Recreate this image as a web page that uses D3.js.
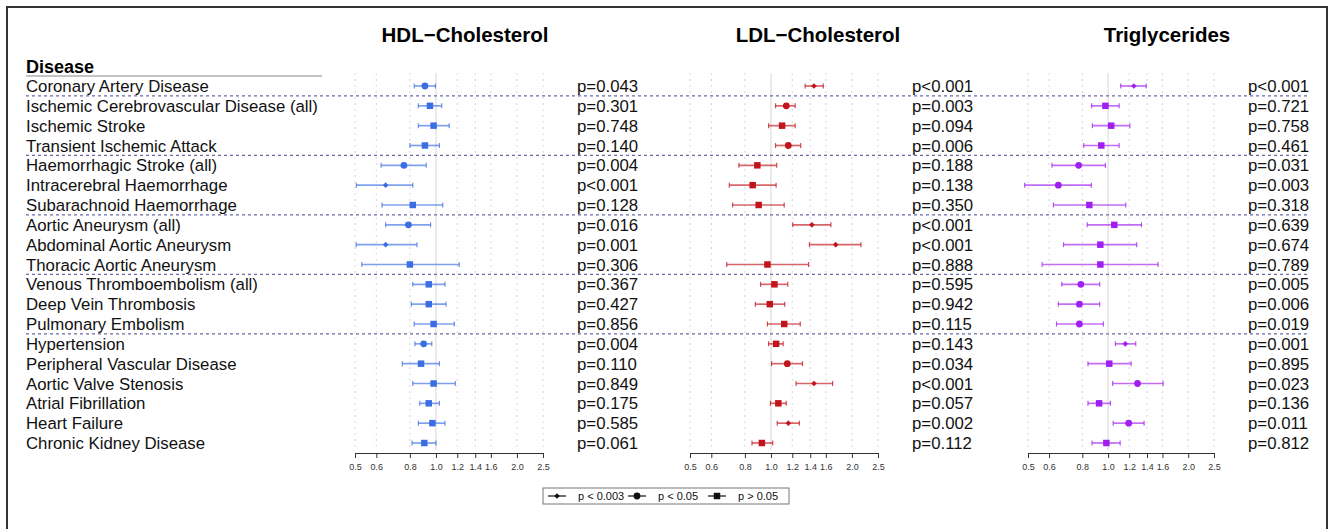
<!DOCTYPE html>
<html>
<head>
<meta charset="utf-8">
<script src="https://cdn.jsdelivr.net/npm/d3@7"></script>
<style>
  body { margin: 0; background: #fff; }
  svg { font-family: "Liberation Sans", Arial, Helvetica, sans-serif; }
  .tick text { font-size: 9px; fill: #333; }
</style>
</head>
<body>
<div id="chart"></div>
<script>
// Rows of the forest plot
const diseases = [
    'Coronary Artery Disease',
    'Ischemic Cerebrovascular Disease (all)',
    'Ischemic Stroke',
    'Transient Ischemic Attack',
    'Haemorrhagic Stroke (all)',
    'Intracerebral Haemorrhage',
    'Subarachnoid Haemorrhage',
    'Aortic Aneurysm (all)',
    'Abdominal Aortic Aneurysm',
    'Thoracic Aortic Aneurysm',
    'Venous Thromboembolism (all)',
    'Deep Vein Thrombosis',
    'Pulmonary Embolism',
    'Hypertension',
    'Peripheral Vascular Disease',
    'Aortic Valve Stenosis',
    'Atrial Fibrillation',
    'Heart Failure',
    'Chronic Kidney Disease'
];
// a dashed line is drawn below each of these rows
const groupEnds = ['Coronary Artery Disease', 'Transient Ischemic Attack', 'Subarachnoid Haemorrhage',
    'Thoracic Aortic Aneurysm', 'Pulmonary Embolism'];

const tickValues = [0.5, 0.6, 0.8, 1.0, 1.2, 1.4, 1.6, 2.0, 2.5];

// HDL-Cholesterol
const hdlOR = [0.91, 0.95, 0.98, 0.91, 0.76, 0.65, 0.82, 0.79, 0.65, 0.80, 0.94, 0.94, 0.98, 0.90, 0.88, 0.98, 0.94, 0.97, 0.905];
const hdlLo = [0.83, 0.86, 0.86, 0.80, 0.625, 0.506, 0.63, 0.65, 0.505, 0.53, 0.82, 0.81, 0.83, 0.835, 0.75, 0.82, 0.87, 0.86, 0.815];
const hdlHi = [0.995, 1.05, 1.12, 1.03, 0.92, 0.82, 1.06, 0.955, 0.85, 1.22, 1.08, 1.09, 1.17, 0.965, 1.03, 1.18, 1.03, 1.08, 1.0];
const hdlP = ['p=0.043', 'p=0.301', 'p=0.748', 'p=0.140', 'p=0.004', 'p<0.001', 'p=0.128', 'p=0.016', 'p=0.001', 'p=0.306',
    'p=0.367', 'p=0.427', 'p=0.856', 'p=0.004', 'p=0.110', 'p=0.849', 'p=0.175', 'p=0.585', 'p=0.061'];

// LDL-Cholesterol
const ldlOR = [1.445, 1.14, 1.10, 1.16, 0.89, 0.855, 0.90, 1.42, 1.74, 0.97, 1.03, 0.99, 1.12, 1.045, 1.15, 1.445, 1.065, 1.16, 0.925];
const ldlLo = [1.34, 1.04, 0.98, 1.04, 0.76, 0.70, 0.72, 1.205, 1.39, 0.685, 0.915, 0.875, 0.97, 0.98, 1.005, 1.24, 0.995, 1.055, 0.85];
const ldlHi = [1.565, 1.23, 1.23, 1.29, 1.05, 1.045, 1.12, 1.67, 2.16, 1.38, 1.155, 1.125, 1.285, 1.11, 1.31, 1.695, 1.14, 1.275, 1.015];
const ldlP = ['p<0.001', 'p=0.003', 'p=0.094', 'p=0.006', 'p=0.188', 'p=0.138', 'p=0.350', 'p<0.001', 'p<0.001', 'p=0.888',
    'p=0.595', 'p=0.942', 'p=0.115', 'p=0.143', 'p=0.034', 'p<0.001', 'p=0.057', 'p=0.002', 'p=0.112'];

// Triglycerides
const tgOR = [1.25, 0.977, 1.027, 0.943, 0.775, 0.65, 0.85, 1.055, 0.935, 0.935, 0.79, 0.78, 0.78, 1.16, 1.01, 1.29, 0.925, 1.195, 0.985];
const tgLo = [1.115, 0.867, 0.873, 0.81, 0.615, 0.486, 0.623, 0.835, 0.68, 0.565, 0.67, 0.65, 0.64, 1.065, 0.84, 1.04, 0.84, 1.045, 0.87];
const tgHi = [1.39, 1.10, 1.207, 1.10, 0.977, 0.865, 1.165, 1.335, 1.28, 1.54, 0.93, 0.93, 0.96, 1.27, 1.22, 1.61, 1.02, 1.365, 1.11];
const tgP = ['p<0.001', 'p=0.721', 'p=0.758', 'p=0.461', 'p=0.031', 'p=0.003', 'p=0.318', 'p=0.639', 'p=0.674', 'p=0.789',
    'p=0.005', 'p=0.006', 'p=0.019', 'p=0.001', 'p=0.895', 'p=0.023', 'p=0.136', 'p=0.011', 'p=0.812'];

const legendLabels = ['p < 0.003', 'p < 0.05', 'p > 0.05'];

const width = 1336;
const height = 529;

const panels = [
    { title: 'HDL\u2212Cholesterol', or: hdlOR, lo: hdlLo, hi: hdlHi, p: hdlP, color: '#3b6ee3', x0: 355, x1: 543, px: 577, tx: 465 },
    { title: 'LDL\u2212Cholesterol', or: ldlOR, lo: ldlLo, hi: ldlHi, p: ldlP, color: '#c2141c', x0: 690, x1: 878, px: 912, tx: 818 },
    { title: 'Triglycerides', or: tgOR, lo: tgLo, hi: tgHi, p: tgP, color: '#a01ff0', x0: 1028, x1: 1214, px: 1248, tx: 1167 }
];

const svg = d3.select('#chart')
    .append('svg')
    .attr('width', width)
    .attr('height', height);

// outer frame
svg.append('rect')
    .attr('x', 7)
    .attr('y', 7)
    .attr('width', 1320)
    .attr('height', 540)
    .attr('fill', 'none')
    .attr('stroke', '#333')
    .attr('stroke-width', 2);

const yScale = d3.scalePoint()
    .domain(diseases)
    .range([86, 443]);
const step = yScale.step();

// which marker to use for a p-value text
function pClass(pText) {
    const v = +pText.slice(2);
    if (v < 0.003) return 0;
    if (v < 0.05) return 1;
    return 2;
}
const shapes = [
    d3.symbol().type(d3.symbolDiamond2).size(20),
    d3.symbol().type(d3.symbolCircle).size(36),
    d3.symbol().type(d3.symbolSquare).size(42)
];

// Disease header
svg.append('text')
    .attr('x', 26)
    .attr('y', 73)
    .style('font-size', '18px')
    .style('font-weight', 'bold')
    .text('Disease');

svg.append('line')
    .attr('x1', 26).attr('x2', 322)
    .attr('y1', 76).attr('y2', 76)
    .attr('stroke', '#888')
    .attr('stroke-width', 1);

// row labels
svg.selectAll('.row-label')
    .data(diseases)
    .enter()
    .append('text')
    .attr('class', 'row-label')
    .attr('x', 26)
    .attr('y', d => yScale(d) + 6)
    .style('font-size', '16.8px')
    .attr('fill', '#111')
    .text(d => d);

panels.forEach(panel => {
    const xScale = d3.scaleLog()
        .domain([0.5, 2.5])
        .range([panel.x0, panel.x1]);

    const g = svg.append('g');

    // grid lines
    g.selectAll('.grid')
        .data(tickValues)
        .enter()
        .append('line')
        .attr('x1', d => xScale(d))
        .attr('x2', d => xScale(d))
        .attr('y1', 73)
        .attr('y2', 450)
        .attr('stroke', d => d === 1 ? '#dddddd' : '#d6d6d6')
        .attr('stroke-width', d => d === 1 ? 1.2 : 1)
        .attr('stroke-dasharray', d => d === 1 ? null : '2,4');

    // title
    svg.append('text')
        .attr('x', panel.tx)
        .attr('y', 42)
        .attr('text-anchor', 'middle')
        .style('font-size', '20.5px')
        .style('font-weight', 'bold')
        .text(panel.title);

    // axis
    const axis = g.append('g')
        .attr('transform', 'translate(0,453)')
        .call(d3.axisBottom(xScale)
            .tickValues(tickValues)
            .tickFormat(d3.format('.1f'))
            .tickSize(5)
            .tickPadding(6));
    axis.select('.domain').attr('stroke', '#333');
    axis.selectAll('.tick line').attr('stroke', '#333');

    const rows = diseases.map((d, i) => ({
        name: d, or: panel.or[i], lo: panel.lo[i], hi: panel.hi[i], p: panel.p[i]
    }));

    // error bars
    g.selectAll('.ci')
        .data(rows)
        .enter()
        .append('line')
        .attr('x1', d => xScale(d.lo))
        .attr('x2', d => xScale(d.hi))
        .attr('y1', d => yScale(d.name))
        .attr('y2', d => yScale(d.name))
        .attr('stroke', panel.color)
        .attr('stroke-opacity', 0.65)
        .attr('stroke-width', 1.7);

    ['lo', 'hi'].forEach(k => {
        g.selectAll('.cap-' + k)
            .data(rows)
            .enter()
            .append('line')
            .attr('x1', d => xScale(d[k]))
            .attr('x2', d => xScale(d[k]))
            .attr('y1', d => yScale(d.name) - 2.5)
            .attr('y2', d => yScale(d.name) + 2.5)
            .attr('stroke', panel.color)
            .attr('stroke-opacity', 0.75)
            .attr('stroke-width', 1.2);
    });

    // point estimates
    g.selectAll('.point')
        .data(rows)
        .enter()
        .append('path')
        .attr('transform', d => `translate(${xScale(d.or)},${yScale(d.name)})`)
        .attr('d', d => shapes[pClass(d.p)]())
        .attr('fill', panel.color);

    // p-values
    g.selectAll('.pval')
        .data(rows)
        .enter()
        .append('text')
        .attr('x', panel.px)
        .attr('y', d => yScale(d.name) + 6)
        .style('font-size', '16.8px')
        .attr('fill', '#111')
        .text(d => d.p);
});

// group separators
svg.selectAll('.sep')
    .data(groupEnds)
    .enter()
    .append('line')
    .attr('x1', 26)
    .attr('x2', 1310)
    .attr('y1', d => yScale(d) + step / 2)
    .attr('y2', d => yScale(d) + step / 2)
    .attr('stroke', '#6b6ba8')
    .attr('stroke-width', 1.2)
    .attr('stroke-dasharray', '3,3');

// legend
const legend = svg.append('g').attr('transform', 'translate(543,488)');
legend.append('rect')
    .attr('width', 246)
    .attr('height', 16)
    .attr('fill', '#fff')
    .attr('stroke', '#777')
    .attr('stroke-width', 1);

const legendX = d3.scalePoint()
    .domain(legendLabels)
    .range([5, 165]);

const items = legend.selectAll('.item')
    .data(legendLabels)
    .enter()
    .append('g')
    .attr('transform', d => `translate(${legendX(d)},8)`);

items.append('line')
    .attr('x1', 0).attr('x2', 18)
    .attr('stroke', '#111')
    .attr('stroke-width', 1.2);

items.append('path')
    .attr('transform', 'translate(9,0)')
    .attr('d', (d, i) => shapes[i]())
    .attr('fill', '#111');

items.append('text')
    .attr('x', 30)
    .attr('y', 4)
    .style('font-size', '11px')
    .attr('fill', '#111')
    .text(d => d);
</script>
</body>
</html>
